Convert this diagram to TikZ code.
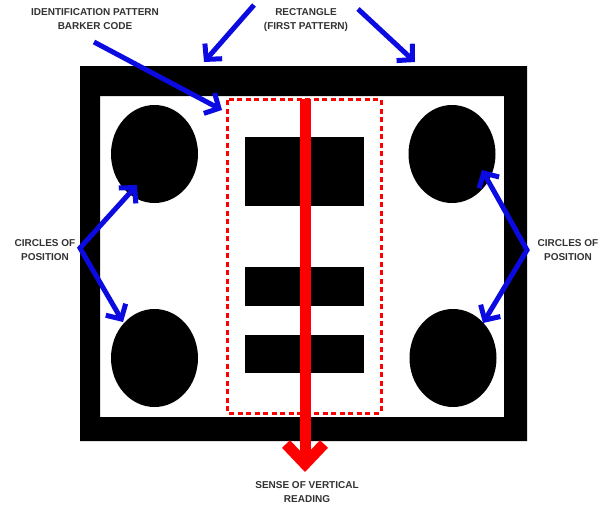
\documentclass[tikz,border=0pt]{standalone}
\usepackage{fontspec}
\setmainfont{Liberation Sans}
\usepackage{xcolor}
\usetikzlibrary{arrows.meta,calc,positioning,shapes.geometric}
\definecolor{markblue}{RGB}{10,10,225}
\definecolor{markred}{RGB}{255,0,0}
\definecolor{labgray}{RGB}{50,50,50}

\begin{document}
\begin{tikzpicture}[x=1pt, y=-1pt,
    lbl/.style={align=center, inner sep=0pt, text=labgray,
                font=\fontsize{10}{13.5}\selectfont\bfseries},
    spot/.style={ellipse, fill=black, inner sep=0pt, minimum width=87pt,
                 minimum height=98pt},
    bar/.style={fill=black, inner sep=0pt, minimum width=119pt},
    barr/.style={-{Straight Barb[length=11pt, width=23pt]}, line width=5pt,
                 markblue},
    barr2/.style={{Straight Barb[length=11pt, width=23pt]}-{Straight Barb[length=11pt, width=23pt]},
                  line width=5pt, markblue, line join=miter},
    readarr/.style={-{Straight Barb[length=20pt, width=38pt]}, line width=11pt,
                    markred},
    zone/.style={draw=markred, line width=3pt, dash pattern=on 5pt off 3.5pt,
                 rounded corners=1pt}]
  \useasboundingbox (0,0) rectangle (600,506);
  % first pattern: the black rectangle
  \fill[even odd rule] (80,66) rectangle (527,441) (100,96) rectangle (504,417);
  % circles of position
  \node[spot] (cTL) at (154.5,154) {};
  \node[spot] (cBL) at (154.5,358) {};
  \node[spot] (cTR) at (452,154) {};
  \node[spot] (cBR) at (453,358) {};
  % barker code bars
  \node[bar, minimum height=69pt] (bar1) at (304.5,171.5) {};
  \node[bar, minimum height=39pt] (bar2) at (304.5,286.5) {};
  \node[bar, minimum height=38pt] (bar3) at (304.5,354) {};
  % reading direction
  \coordinate (rtop) at (305,99);
  \coordinate (rtip) at (305,472);
  \draw[readarr] (rtop) -- (rtip);
  \draw[zone] (227,99) rectangle (381,413);
  % labels
  \node[lbl] (idlab) at (95,19) {IDENTIFICATION PATTERN\\BARKER CODE};
  \node[lbl] (rectlab) at (306,20) {RECTANGLE\\(FIRST PATTERN)};
  \node[lbl] (leftlab) at (45,250) {CIRCLES OF\\POSITION};
  \node[lbl] (rightlab) at (568,250) {CIRCLES OF\\POSITION};
  \node[lbl] (readlab) at (307,492) {SENSE OF VERTICAL\\READING};
  % blue pointers
  \coordinate (idfrom) at (94,42);
  \coordinate (idto) at (222,110);
  \coordinate (rfromL) at (254,5);
  \coordinate (rtoL) at (204,62);
  \coordinate (rfromR) at (358,9);
  \coordinate (rtoR) at (415,62);
  \coordinate (vL) at (80,248);
  \coordinate (tTL) at (137,185);
  \coordinate (tBL) at (123,322);
  \coordinate (vR) at (527,250);
  \coordinate (tTR) at (482,170);
  \coordinate (tBR) at (483,323);
  \draw[barr] (idfrom) -- (idto);
  \draw[barr] (rfromL) -- (rtoL);
  \draw[barr] (rfromR) -- (rtoR);
  \draw[barr2] (tTL) -- (vL) -- (tBL);
  \draw[barr2] (tTR) -- (vR) -- (tBR);
\end{tikzpicture}
\end{document}
